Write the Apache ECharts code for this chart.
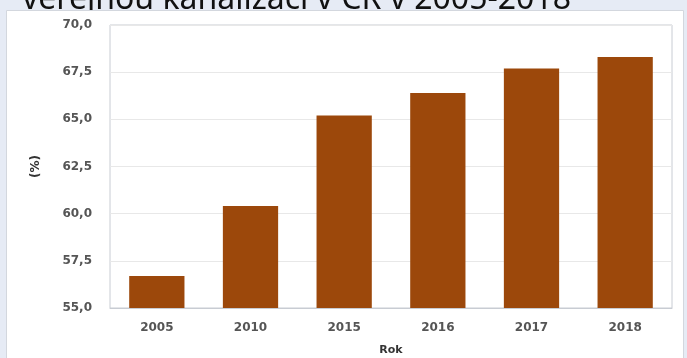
<!DOCTYPE html>
<html>
<head>
<meta charset="utf-8">
<script src="https://cdn.jsdelivr.net/npm/echarts@6/dist/echarts.min.js"></script>
<style>
html,body{margin:0;padding:0;background:#e6ebf5;}
#wrap{position:relative;width:687px;height:358px;}
#c{position:absolute;left:0;top:0;width:687px;height:358px;}
#t{position:absolute;left:0;top:0;width:687px;height:10px;overflow:hidden;z-index:5;}
</style>
</head>
<body>
<div id="wrap">
<div id="c"></div>
<div id="t"></div>
</div>
<script>
var titleText = 'veřejnou kanalizací v ČR v 2005-2018';
var categories = ['2005', '2010', '2015', '2016', '2017', '2018'];
var values = [56.7, 60.4, 65.2, 66.4, 67.7, 68.3];
var yMin = 55, yMax = 70, yStep = 2.5;
var xName = 'Rok', yName = '(%)';

var titleChart = echarts.init(document.getElementById('t'), null, {renderer: 'canvas'});
titleChart.setOption({
  backgroundColor: '#e6ebf5',
  animation: false,
  graphic: [
    {type: 'text', left: 22, top: -16,
     style: {text: titleText, fill: '#111', font: '32px "Noto Sans", sans-serif'}}
  ]
});

var chart = echarts.init(document.getElementById('c'), null, {renderer: 'canvas'});
chart.setOption({
  backgroundColor: '#e6ebf5',
  animation: false,
  graphic: [
    {type: 'rect', left: 6, top: 10, z: -10,
     shape: {width: 677, height: 360},
     style: {fill: '#ffffff', stroke: '#d3d7de', lineWidth: 1}}
  ],
  grid: {left: 110, right: 15, top: 25, bottom: 50, show: true, borderColor: '#c8ccd3', borderWidth: 1, backgroundColor: 'transparent', outerBoundsMode: 'none', containLabel: false},
  xAxis: {
    type: 'category', data: categories,
    name: xName, nameLocation: 'middle', nameGap: 37,
    nameTextStyle: {color: '#333', fontSize: 11, fontWeight: 'bold', fontFamily: 'DejaVu Sans'},
    axisLine: {show: true, lineStyle: {color: '#c8ccd3'}},
    axisTick: {show: false},
    axisLabel: {color: '#555', fontSize: 12, fontWeight: 'bold', fontFamily: 'DejaVu Sans', margin: 14}
  },
  yAxis: {
    type: 'value', min: yMin, max: yMax, interval: yStep,
    name: yName, nameLocation: 'middle', nameGap: 68, nameRotate: 90,
    nameTextStyle: {color: '#333', fontSize: 12, fontWeight: 'bold', fontFamily: 'DejaVu Sans'},
    axisLine: {show: false}, axisTick: {show: false},
    splitLine: {lineStyle: {color: '#e8e8e8'}},
    axisLabel: {color: '#555', fontSize: 12, fontWeight: 'bold', fontFamily: 'DejaVu Sans', margin: 18,
      formatter: function(v){ return v.toFixed(1).replace('.', ','); }}
  },
  series: [{
    type: 'bar', data: values, barCategoryGap: '41%',
    itemStyle: {color: '#9c480b'}
  }]
});
</script>
</body>
</html>
